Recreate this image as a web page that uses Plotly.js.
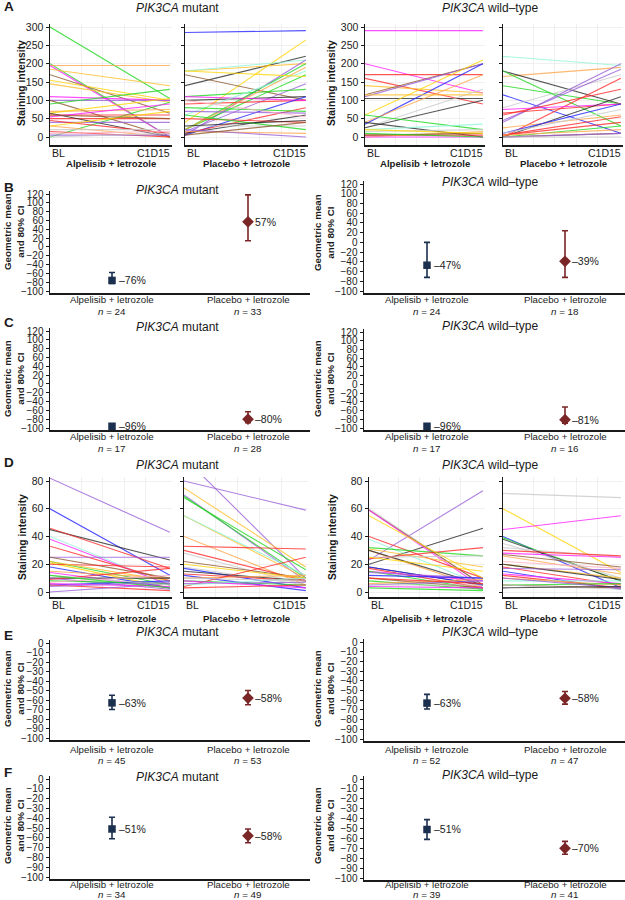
<!DOCTYPE html>
<html><head><meta charset="utf-8">
<script src="https://cdn.plot.ly/plotly-3.0.1.min.js"></script>
<style>body{margin:0;background:#fff}#c{width:625px;height:900px}</style>
</head><body><div id="c"></div>
<script>
// ---------------- DATA ----------------
const timepoints = ['BL', 'C1D15'];
const arms = ['Alpelisib + letrozole', 'Placebo + letrozole'];

// Panel A (staining intensity), PIK3CA mutant
const aMutAlpBL = [300,200,195,195,185,170,155,145,110,100,100,90,0,70,65,60,50,55,65,40,45,30,20,15,10,5,0,30,60];
const aMutAlpC1 = [105,0,195,0,140,65,100,95,100,100,0,130,95,75,105,60,50,90,0,40,10,0,20,0,15,5,10,70,50];
const aMutAlpCol = ['green','green','orange','magenta','gold','brown','yellow','gold','magenta','purple','brown','green','green','orange','yellow','red','red','magenta','black','purple','red','orange','gray','red','pink','purple','gray','yellow','brown'];
const aMutPlcBL = [285,140,180,40,180,170,5,20,20,15,110,100,90,110,60,20,5,10,80,70,10,50,15,30,20,60,5,180,100,30];
const aMutPlcC1 = [290,220,200,265,210,100,210,200,170,145,130,110,100,100,180,190,110,80,70,65,60,40,10,30,0,20,40,165,55,45];
const aMutPlcCol = ['blue','black','gold','yellow','aqua','brown','purple','green','green','purple','green','black','red','magenta','aqua','orange','blue','red','green','purple','black','red','orange','gray','purple','green','brown','yellow','pink','black'];
// Panel A, PIK3CA wild-type
const aWtAlpBL = [290,200,170,160,140,115,110,105,60,35,40,25,25,60,40,20,15,5,0,0,5,10,20,115];
const aWtAlpC1 = [290,120,170,90,120,200,200,105,210,200,170,130,100,20,0,35,20,5,15,0,10,0,10,115];
const aWtAlpCol = ['magenta','magenta','red','red','gold','brown','purple','black','yellow','blue','orange','gray','black','green','black','aqua','gray','red','orange','magenta','brown','green','yellow','gold'];
const aWtPlcBL = [220,165,180,180,140,115,80,40,45,0,65,75,60,0,25,10,10,5,5,0,5,0,0,0];
const aWtPlcC1 = [195,190,90,30,90,10,170,200,185,160,90,90,130,110,60,90,75,55,40,30,20,10,10,0];
const aWtPlcCol = ['aqua','orange','black','green','green','blue','gray','purple','purple','red','red','magenta','red','black','orange','blue','gray','red','red','green','orange','brown','purple','gray'];

// Panel D (staining intensity), PIK3CA mutant
const dMutAlpBL = [82,60,45,46,40,38,33,25,25,22,21,20,22,18,15,14,10,10,9,8,5,5,0,12,7,6,12,4];
const dMutAlpC1 = [43,12,23,17,5,5,8,25,10,5,3,18,8,3,10,3,10,2,17,6,8,1,6,5,12,4,3,7];
const dMutAlpCol = ['purple','blue','black','red','aqua','magenta','red','purple','brown','green','yellow','red','gold','blue','orange','magenta','black','purple','red','green','blue','red','purple','gray','pink','magenta','green','purple'];
const dMutPlcBL = [80,97,70,75,68,69,55,55,40,33,30,28,22,20,18,17,15,13,12,10,4,8,6,8,5,3,10];
const dMutPlcC1 = [59,10,8,18,16,10,10,12,5,31,8,5,10,10,5,3,8,8,1,12,25,5,7,3,10,5,8];
const dMutPlcCol = ['purple','purple','purple','gold','green','green','gold','aqua','orange','red','red','gray','brown','yellow','gray','blue','black','red','blue','orange','red','green','purple','magenta','aqua','red','gray'];
// Panel D, PIK3CA wild-type
const dWtAlpBL = [23,20,60,59,59,40,38,31,30,30,32,24,25,25,18,18,17,15,15,14,12,10,8,6,5,5,4,3,55,10];
const dWtAlpC1 = [73,46,5,5,3,10,5,18,3,5,26,32,26,15,5,5,3,8,2,10,10,3,2,9,8,5,3,1,10,6];
const dWtAlpCol = ['purple','black','gray','brown','magenta','red','aqua','gold','orange','black','green','red','gray','yellow','black','blue','red','magenta','green','purple','blue','brown','green','orange','purple','gray','magenta','green','yellow','red'];
const dWtPlcBL = [71,60,45,40,39,38,35,32,30,28,26,27,22,20,20,18,17,15,13,12,8,10,5,5,5,10,3];
const dWtPlcC1 = [68,14,55,3,8,8,10,25,26,25,13,18,17,10,9,5,16,2,6,3,8,5,6,3,2,3,4];
const dWtPlcCol = ['gray','yellow','magenta','blue','green','black','gray','gray','red','magenta','orange','brown','pink','gold','black','red','purple','blue','magenta','red','aqua','orange','green','brown','gray','purple','black'];

// Panels B, C, E, F: geometric mean % change and 80% CI [Alpelisib, Placebo]
const bMutMean = [-76, 57],  bMutLo = [-83, 14],  bMutHi = [-58, 118], bMutN = [24, 33];
const bWtMean  = [-47, -39], bWtLo  = [-72, -72], bWtHi  = [0, 24],    bWtN  = [24, 18];
const cMutMean = [-96, -80], cMutLo = [-98, -88], cMutHi = [-94, -63], cMutN = [17, 28];
const cWtMean  = [-96, -81], cWtLo  = [-98, -89], cWtHi  = [-94, -52], cWtN  = [17, 16];
const eMutMean = [-63, -58], eMutLo = [-70, -65], eMutHi = [-55, -50], eMutN = [45, 53];
const eWtMean  = [-63, -58], eWtLo  = [-69, -64], eWtHi  = [-54, -51], eWtN  = [52, 47];
const fMutMean = [-51, -58], fMutLo = [-61, -65], fMutHi = [-39, -51], fMutN = [34, 49];
const fWtMean  = [-51, -70], fWtLo  = [-61, -76], fWtHi  = [-41, -63], fWtN  = [39, 41];

// ---------------- STYLE / LAYOUT ----------------
const W = 625, H = 900;
const FONT = 'Liberation Sans, Arial, Helvetica, sans-serif';
const INK = '#1a1a1a';
const pal = {green:'#22d822', yellow:'#ffd400', gold:'#ffbe2a', orange:'#ffa64d', red:'#ff2b2b',
  magenta:'#ff22ff', brown:'#8e5a2e', black:'#2a2a2a', blue:'#2424ff', purple:'#9a60d8',
  gray:'#c9c9c9', aqua:'#90f5d8', pink:'#ffb3c3'};
const armColor = ['#1b2f4e', '#7a2626'];
const armSymbol = ['square', 'diamond'];
const armSize = [7.5, 9];

const traces = [];
const layout = {width: W, height: H, margin: {l:0, r:0, t:0, b:0}, showlegend: false,
  paper_bgcolor: '#fff', plot_bgcolor: 'rgba(0,0,0,0)', hovermode: false,
  font: {family: FONT, color: INK}, annotations: []};

let axN = 0;
function addAxes(px0, px1, xr, axTop, axBot, yr, yopt, xopt) {
  axN++;
  const s = axN === 1 ? '' : String(axN);
  layout['xaxis' + s] = Object.assign({domain: [px0 / W, px1 / W], range: xr, anchor: 'y' + s,
    showline: true, linecolor: INK, linewidth: 1.5, ticks: '', showticklabels: false,
    showgrid: false, zeroline: false, fixedrange: true}, xopt || {});
  layout['yaxis' + s] = Object.assign({domain: [1 - axBot / H, 1 - axTop / H], range: yr, anchor: 'x' + s,
    showline: true, linecolor: INK, linewidth: 1.5, ticks: 'outside', ticklen: 3, tickwidth: 1,
    tickcolor: INK, showgrid: false, zeroline: false, fixedrange: true,
    tickfont: {family: FONT, size: 10.5, color: '#222'}}, yopt || {});
  return {x: 'x' + s, y: 'y' + s};
}
function yRange(vA, pA, vB, pB, axTop, axBot) {
  const ppu = (pB - pA) / (vA - vB);
  return [vB - (axBot - pB) / ppu, vA + (pA - axTop) / ppu];
}
function catRange(px0, px1, pa, pp) {
  const ppu = pp - pa;
  return [-(pa - px0) / ppu, 1 + (px1 - pp) / ppu];
}
function ann(text, px, py, size, o) {
  layout.annotations.push(Object.assign({text: text, x: px / W, y: 1 - py / H, xref: 'paper', yref: 'paper',
    showarrow: false, xanchor: 'center', yanchor: 'middle',
    font: {family: FONT, size: size, color: INK}}, o || {}));
}

function spag(px0, px1, axTop, axBot, yr, dtick, showLabels, bl, c1, col, tpY, armIdx, armY) {
  const a = addAxes(px0, px1, [0, 1.018], axTop, axBot, yr,
    {dtick: dtick, tick0: 0, showticklabels: showLabels, showgrid: true, gridcolor: '#ececec', gridwidth: 0.8},
    {showgrid: true, gridcolor: '#ececec', gridwidth: 0.8, tickvals: [0.26, 0.44, 0.62, 0.8]});
  for (let i = 0; i < bl.length; i++) {
    traces.push({type: 'scatter', mode: 'lines', x: [0, 1], y: [bl[i], c1[i]], xaxis: a.x, yaxis: a.y,
      line: {color: pal[col[i]], width: 1.1}, opacity: 0.8, hoverinfo: 'skip'});
  }
  ann(timepoints[0], px0, tpY, 10.5, {xanchor: 'left'});
  ann(timepoints[1], px1, tpY, 10.5, {xanchor: 'right'});
  ann('<b>' + arms[armIdx] + '</b>', (px0 + px1) / 2, armY, 9.6);
}

function ptPanel(px0, px1, pa, pp, yr, axTop, axBot, dtick, mean, lo, hi, n, catY, nY) {
  const a = addAxes(px0, px1, catRange(px0, px1, pa, pp), axTop, axBot, yr,
    {dtick: dtick, tick0: 0, tickfont: {family: FONT, size: 10, color: '#222'}});
  for (let i = 0; i < 2; i++) {
    traces.push({type: 'scatter', mode: 'markers', x: [i], y: [mean[i]], xaxis: a.x, yaxis: a.y,
      marker: {symbol: armSymbol[i], size: armSize[i], color: armColor[i]},
      error_y: {type: 'data', symmetric: false, array: [hi[i] - mean[i]], arrayminus: [mean[i] - lo[i]],
        color: armColor[i], thickness: 1.6, width: 3}, hoverinfo: 'skip'});
    const lab = (mean[i] < 0 ? '–' : '') + Math.abs(mean[i]) + '%';
    layout.annotations.push({text: lab, x: i, y: mean[i], xref: a.x, yref: a.y, showarrow: false,
      xanchor: 'left', yanchor: 'middle', xshift: 5, font: {family: FONT, size: 10.5, color: '#222'}});
    ann(arms[i], [pa, pp][i], catY, 9.7);
    if (nY) ann('<i>n</i> = ' + n[i], [pa, pp][i], nY, 9.8);
  }
}

// ---- Row A ----
const yrA = yRange(300, 27, 0, 137, 24, 145);
spag(50, 172, 24, 145, yrA, 50, true, aMutAlpBL, aMutAlpC1, aMutAlpCol, 153, 0, 163);
spag(185, 308, 24, 145, yrA, 50, false, aMutPlcBL, aMutPlcC1, aMutPlcCol, 153, 1, 163);
spag(365, 485, 24, 145, yrA, 50, true, aWtAlpBL, aWtAlpC1, aWtAlpCol, 153, 0, 163);
spag(503, 623, 24, 145, yrA, 50, false, aWtPlcBL, aWtPlcC1, aWtPlcCol, 153, 1, 163);
ann('<b>A</b>', 2, 7, 13.5, {xanchor: 'left'});
ann('<i>PIK3CA</i> mutant', 177, 8, 12);
ann('<i>PIK3CA</i> wild–type', 490, 8, 12);
ann('<b>Staining intensity</b>', 22, 83, 10.3, {textangle: -90});
ann('<b>Staining intensity</b>', 332, 83, 10.3, {textangle: -90});

// ---- Row B ----
ptPanel(50, 310, 112, 248, yRange(120, 194, -100, 291, 191, 293), 191, 293, 20, bMutMean, bMutLo, bMutHi, bMutN, 300, 311);
ptPanel(364, 625, 427, 565, yRange(120, 184, -100, 291, 181, 293), 181, 293, 20, bWtMean, bWtLo, bWtHi, bWtN, 300, 311);
ann('<b>B</b>', 2, 187, 13.5, {xanchor: 'left'});
ann('<i>PIK3CA</i> mutant', 177, 190, 12);
ann('<i>PIK3CA</i> wild–type', 490, 182, 12);

// ---- Row C ----
ptPanel(50, 310, 112, 248, yRange(120, 331, -100, 428, 328, 430), 328, 430, 20, cMutMean, cMutLo, cMutHi, cMutN, 437, 448);
ptPanel(364, 625, 427, 565, yRange(120, 332, -100, 428, 329, 430), 329, 430, 20, cWtMean, cWtLo, cWtHi, cWtN, 437, 448);
ann('<b>C</b>', 2, 322, 13.5, {xanchor: 'left'});
ann('<i>PIK3CA</i> mutant', 177, 327, 12);
ann('<i>PIK3CA</i> wild–type', 490, 326, 12);

// ---- Row D ----
const yrD = yRange(80, 481, 0, 592, 477, 597);
spag(50, 172, 477, 597, yrD, 20, true, dMutAlpBL, dMutAlpC1, dMutAlpCol, 605, 0, 618);
spag(184, 308, 477, 597, yrD, 20, false, dMutPlcBL, dMutPlcC1, dMutPlcCol, 605, 1, 618);
spag(369, 485, 477, 597, yrD, 20, true, dWtAlpBL, dWtAlpC1, dWtAlpCol, 605, 0, 618);
spag(503, 623, 477, 597, yrD, 20, false, dWtPlcBL, dWtPlcC1, dWtPlcCol, 605, 1, 618);
ann('<b>D</b>', 2, 462, 13.5, {xanchor: 'left'});
ann('<i>PIK3CA</i> mutant', 177, 465, 12);
ann('<i>PIK3CA</i> wild–type', 490, 465, 12);
ann('<b>Staining intensity</b>', 22, 537, 10.3, {textangle: -90});
ann('<b>Staining intensity</b>', 332, 537, 10.3, {textangle: -90});

// ---- Row E ----
ptPanel(50, 310, 112, 248, yRange(0, 643, -100, 738, 640, 740), 640, 740, 10, eMutMean, eMutLo, eMutHi, eMutN, 749, 760);
ptPanel(364, 625, 427, 565, yRange(0, 642, -100, 739, 639, 741), 639, 741, 10, eWtMean, eWtLo, eWtHi, eWtN, 749, 760);
ann('<b>E</b>', 2, 635, 13.5, {xanchor: 'left'});
ann('<i>PIK3CA</i> mutant', 177, 632, 12);
ann('<i>PIK3CA</i> wild–type', 490, 632, 12);

// ---- Row F ----
ptPanel(50, 310, 112, 248, yRange(0, 779, -100, 877, 776, 879), 776, 879, 10, fMutMean, fMutLo, fMutHi, fMutN, 884, 894);
ptPanel(364, 625, 427, 565, yRange(0, 779, -100, 878, 776, 880), 776, 880, 10, fWtMean, fWtLo, fWtHi, fWtN, 884, 894);
ann('<b>F</b>', 2, 772, 13.5, {xanchor: 'left'});
ann('<i>PIK3CA</i> mutant', 177, 777, 12);
ann('<i>PIK3CA</i> wild–type', 490, 775, 12);

// y titles of the CI panels
[[232, 233], [379, 379], [689, 689], [826, 826]].forEach(function (p) {
  ann('<b>Geometric mean<br>and 80% CI</b>', 14, p[0], 9.8, {textangle: -90});
  ann('<b>Geometric mean<br>and 80% CI</b>', 324, p[1], 9.8, {textangle: -90});
});

Plotly.newPlot('c', traces, layout, {staticPlot: true, displayModeBar: false});
</script>
</body></html>
